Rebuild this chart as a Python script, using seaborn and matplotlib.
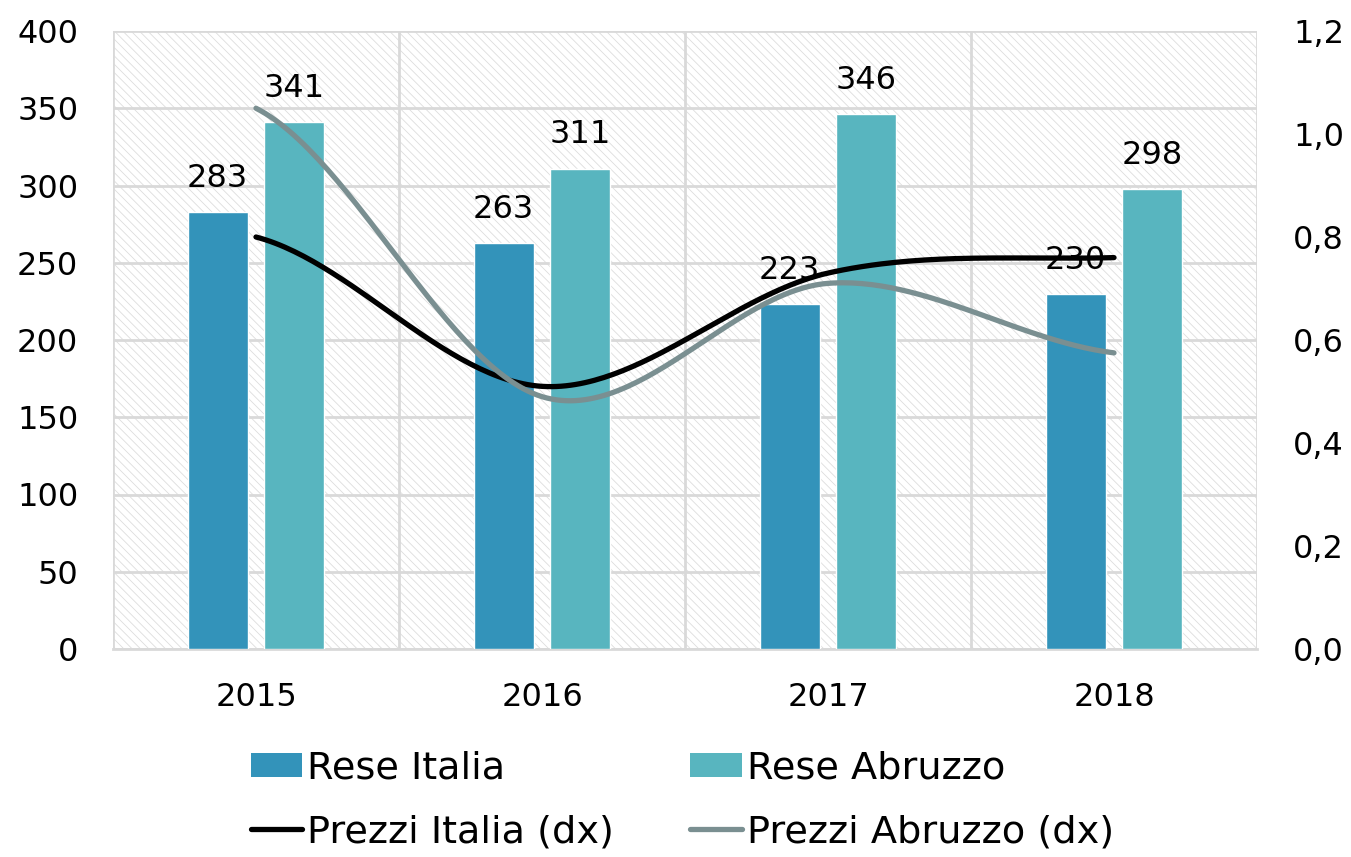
import numpy as np
import pandas as pd
import matplotlib
matplotlib.use("Agg")
import matplotlib.pyplot as plt
import seaborn as sns
from matplotlib.patches import Rectangle, Patch
from matplotlib.lines import Line2D
from matplotlib.ticker import FuncFormatter, FixedLocator

# ---- data ----
years = ["2015", "2016", "2017", "2018"]
rese_italia = [283, 263, 223, 230]
rese_abruzzo = [341, 311, 346, 298]
prezzi_italia = [0.80, 0.51, 0.73, 0.76]
prezzi_abruzzo = [1.05, 0.49, 0.71, 0.575]

left_ticks = [0, 50, 100, 150, 200, 250, 300, 350, 400]
right_ticks = [0.0, 0.2, 0.4, 0.6, 0.8, 1.0, 1.2]

C_IT = "#3393BA"
C_AB = "#58B5BF"
C_PIT = "#000000"
C_PAB = "#7A8F91"
GRID = "#D9D9D9"
FS = 23
FS_LEG = 27.5

sns.set_theme(style="white")
plt.rcParams["font.family"] = ["DejaVu Sans"]
plt.rcParams["text.color"] = "black"
plt.rcParams["hatch.linewidth"] = 0.6
plt.rcParams["hatch.color"] = "#DDDDDD"

fig = plt.figure(figsize=(13.51, 8.57), dpi=100)
ax = fig.add_axes([113 / 1351, 1 - 649 / 857, (1257 - 113) / 1351, (649 - 31) / 857])

# hatched plot-area background
bg = Rectangle((0, 0), 1, 1, transform=ax.transAxes, facecolor="white",
               edgecolor="#DDDDDD", hatch="\\\\\\\\", linewidth=0, zorder=0)
ax.add_patch(bg)

df = pd.DataFrame({
    "Anno": years * 2,
    "Valore": rese_italia + rese_abruzzo,
    "Serie": ["Rese Italia"] * len(years) + ["Rese Abruzzo"] * len(years),
})
sns.barplot(data=df, x="Anno", y="Valore", hue="Serie",
            palette={"Rese Italia": C_IT, "Rese Abruzzo": C_AB},
            width=0.536, gap=0.22, saturation=1, ax=ax, legend=False,
            zorder=3, errorbar=None)

for cont in ax.containers:
    ax.bar_label(cont, fmt="%d", padding=13, fontsize=FS, color="black", zorder=4)

n = len(years)
ax.set_xlim(-0.5, n - 0.5)
ax.set_ylim(left_ticks[0], left_ticks[-1])
ax.set_yticks(left_ticks)
ax.yaxis.grid(True, color=GRID, linewidth=2, zorder=1)
ax.set_axisbelow(True)
for b in np.arange(n + 1) - 0.5:
    ax.axvline(b, color=GRID, linewidth=2, zorder=1)
ax.xaxis.set_minor_locator(FixedLocator(np.arange(n + 1) - 0.5))
ax.tick_params(axis="x", which="minor", length=11, width=2, color=GRID)
ax.tick_params(axis="x", which="major", length=0, pad=23.5, labelsize=FS, labelcolor="black")
ax.tick_params(axis="y", length=0, pad=25, labelsize=FS, labelcolor="black")
ax.set_xlabel("")
ax.set_ylabel("")
for s in ["top", "left", "right"]:
    ax.spines[s].set_visible(False)
ax.spines["bottom"].set_color(GRID)
ax.spines["bottom"].set_linewidth(2)

# secondary axis: smoothed price lines
ax2 = ax.twinx()
ax2.set_ylim(right_ticks[0], right_ticks[-1])
ax2.set_yticks(right_ticks)
ax2.yaxis.set_major_formatter(FuncFormatter(lambda v, p: f"{v:.1f}".replace(".", ",")))
ax2.tick_params(axis="y", length=0, pad=26, labelsize=FS, labelcolor="black")
for s in ax2.spines.values():
    s.set_visible(False)


def smooth(xs, ys, per=60):
    xs = np.asarray(xs, float)
    ys = np.asarray(ys, float)
    m = np.zeros_like(ys)
    m[1:-1] = (ys[2:] - ys[:-2]) / 2
    m[0] = (ys[1] - ys[0]) / 2
    m[-1] = (ys[-1] - ys[-2]) / 2
    ox, oy = [], []
    for i in range(len(xs) - 1):
        t = np.linspace(0, 1, per, endpoint=(i == len(xs) - 2))
        h00 = 2 * t**3 - 3 * t**2 + 1
        h10 = t**3 - 2 * t**2 + t
        h01 = -2 * t**3 + 3 * t**2
        h11 = t**3 - t**2
        ox.append(xs[i] + t * (xs[i + 1] - xs[i]))
        oy.append(h00 * ys[i] + h10 * m[i] + h01 * ys[i + 1] + h11 * m[i + 1])
    return np.concatenate(ox), np.concatenate(oy)


xpos = np.arange(n)
for vals, col in [(prezzi_italia, C_PIT), (prezzi_abruzzo, C_PAB)]:
    sx, sy = smooth(xpos, vals)
    ax2.plot(sx, sy, color=col, linewidth=3.8, solid_capstyle="round", zorder=5)

# legend
handles = [
    Patch(facecolor=C_IT, edgecolor="none"),
    Line2D([], [], color=C_PIT, linewidth=3.8),
    Patch(facecolor=C_AB, edgecolor="none"),
    Line2D([], [], color=C_PAB, linewidth=3.8),
]
labels = ["Rese Italia", "Prezzi Italia (dx)", "Rese Abruzzo", "Prezzi Abruzzo (dx)"]
fig.legend(handles, labels, loc="center", bbox_to_anchor=(0.505, 0.066), ncol=2,
           frameon=False, fontsize=FS_LEG, handlelength=1.36, handleheight=0.6,
           handletextpad=0.12, columnspacing=2.0, labelspacing=0.72)

fig.savefig("out.png", dpi=100)
